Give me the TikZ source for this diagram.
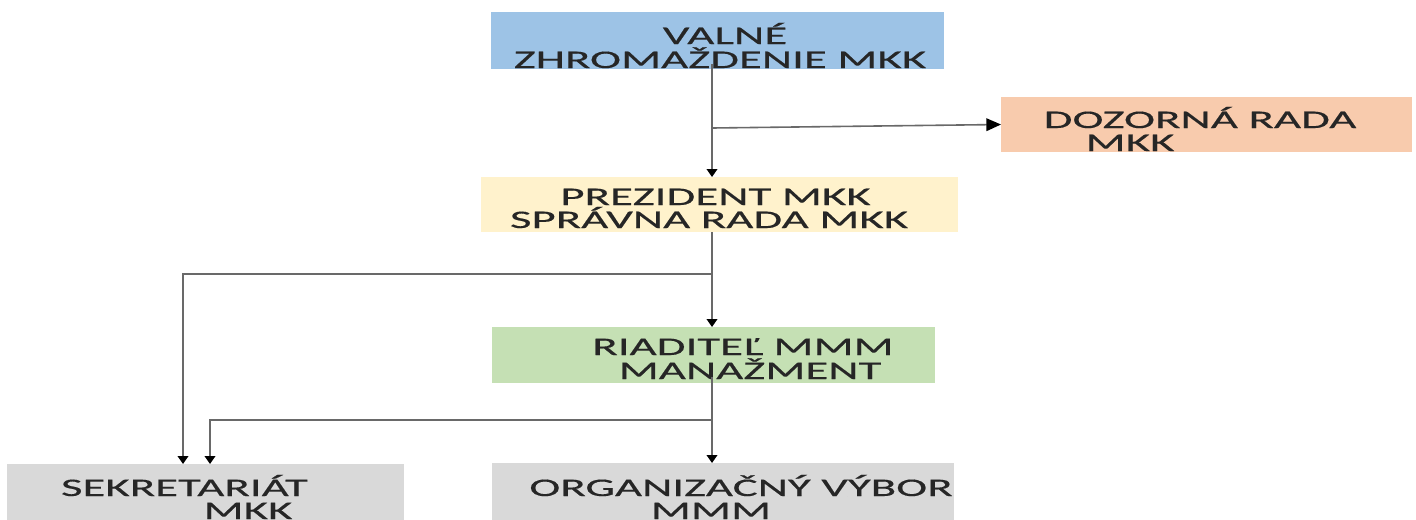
\documentclass[tikz,border=0pt]{standalone}
\usepackage{fontspec}
\setmainfont{Carlito}[FakeStretch=1.85,FakeBold=0.4]
\usetikzlibrary{arrows.meta,calc}
\definecolor{vzblue}{RGB}{157,195,230}
\definecolor{drpeach}{RGB}{248,203,173}
\definecolor{pryellow}{RGB}{255,242,204}
\definecolor{rigreen}{RGB}{197,224,180}
\definecolor{boxgray}{RGB}{217,217,217}
\definecolor{linegray}{RGB}{105,105,105}
\begin{document}
\begin{tikzpicture}[x=0.75pt,y=-0.75pt,
  box/.style={draw=none, inner sep=0, outer sep=0, anchor=north west},
  txt/.style={inner sep=0, anchor=base, font=\fontsize{19pt}{21pt}\selectfont, text=black!85},
  conn/.style={draw=linegray, line width=1.2pt},
  arr/.style={conn, -{Triangle[length=6pt,width=8pt,color=black]}},
  harr/.style={conn, -{Triangle[length=11pt,width=9.5pt,color=black]}}
]
\useasboundingbox (0,0) rectangle (1416,519);
% boxes
\node[box, fill=vzblue,   minimum width=339.75pt, minimum height=42.75pt] (vz) at (491,12) {};
\node[box, fill=drpeach,  minimum width=308.25pt, minimum height=41.25pt] (dr) at (1001,97) {};
\node[box, fill=pryellow, minimum width=357.75pt, minimum height=41.25pt] (pr) at (481,177) {};
\node[box, fill=rigreen,  minimum width=332.25pt, minimum height=42pt]    (ri) at (492,327) {};
\node[box, fill=boxgray,  minimum width=297.75pt, minimum height=42pt]    (se) at (7,464) {};
\node[box, fill=boxgray,  minimum width=346.5pt,  minimum height=42.75pt] (ov) at (492,463) {};
% texts
\node[txt] (vz1) at (725,44) {VALNÉ};
\node[txt] (vz2) at (720,68) {ZHROMAŽDENIE MKK};
\node[txt] (dr1) at (1200,128) {DOZORNÁ RADA};
\node[txt] (dr2) at (1130,151) {MKK};
\node[txt] (pr1) at (715.5,205) {PREZIDENT MKK};
\node[txt] (pr2) at (709,228) {SPRÁVNA RADA MKK};
\node[txt] (ri1) at (743,355) {RIADITEĽ MMM};
\node[txt] (ri2) at (750,379) {MANAŽMENT};
\node[txt] (se1) at (184.5,496) {SEKRETARIÁT};
\node[txt] (se2) at (248,519) {MKK};
\node[txt] (ov1) at (741,496) {ORGANIZAČNÝ VÝBOR};
\node[txt] (ov2) at (711,519) {MMM};
% connectors
\coordinate (col) at (712,0);
\coordinate (j1) at (712,128);
\coordinate (j2) at (712,274);
\coordinate (j3) at (712,420);
\draw[arr] ($(vz.south -| col)+(0,-5)$) -- (pr.north -| col);
\draw[harr] (j1) -- (dr.west);
\draw[arr] (pr.south -| col) -- (ri.north -| col);
\draw[arr] (j2) -| ($(se.north west)+(176,0)$);
\draw[arr] ($(ri.south -| col)+(0,-6)$) -- (ov.north -| col);
\draw[arr] (j3) -| ($(se.north west)+(203,0)$);
\end{tikzpicture}
\end{document}
